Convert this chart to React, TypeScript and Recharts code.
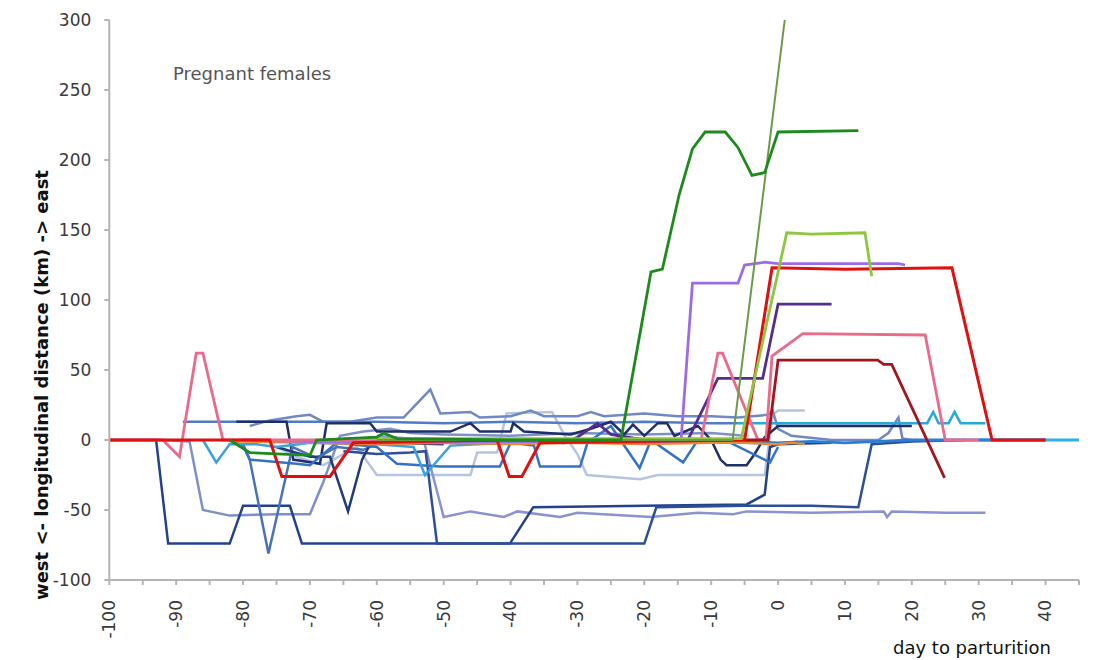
import React from "react"
import { LineChart, Line, XAxis, YAxis } from "recharts"

type Pt = [number, number]

const xTicks = [-100, -95, -90, -85, -80, -75, -70, -65, -60, -55, -50, -45, -40, -35, -30, -25, -20, -15, -10, -5, 0, 5, 10, 15, 20, 25, 30, 35, 40, 45]
const yTicks = [-100, -50, 0, 50, 100, 150, 200, 250, 300]

// day to parturition, longitudinal distance (km)
const lightGray: Pt[] = [[-75, -5], [-72, -12], [-68, -18], [-63, -5], [-60, -25], [-53.5, -25], [-46, -25], [-45, -9], [-42, -9], [-40.6, 19], [-33.8, 20], [-32, 4], [-30, -10], [-28.6, -25], [-20.6, -28], [-18, -25], [-10, -25], [-2, -25], [-0.8, 18], [0, 21], [4, 21]]
const lavender: Pt[] = [[-60, 3], [-53, 0], [-50, -55], [-46, -51], [-41, -55], [-39, -51], [-32.6, -55], [-30, -52], [-19, -55], [-12, -52], [-6.7, -53], [-4.7, -51], [5, -52], [15.8, -51], [16.3, -55], [17, -51], [25, -52], [31, -52]]
const slate: Pt[] = [[-92, 0], [-88, -1], [-86, -50], [-82, -54], [-75, -53], [-70, -53], [-68, -30], [-65.5, 3], [-62, 6], [-58, 8], [-55, 5], [-50, 4], [-40, 3], [-30, 5], [-20, 4], [-10, 5], [-5, 3]]
const spikeLine: Pt[] = [[-79, 10], [-76, 14], [-72, 17], [-70, 18], [-68, 13], [-64, 13], [-60, 16], [-56, 16], [-52, 36], [-50.5, 19], [-46, 20], [-44.6, 16], [-40, 17], [-37, 21], [-35, 17], [-30, 17], [-28, 20], [-26, 17], [-20, 19], [-15, 17], [-10, 17], [-6, 16], [-1.5, 18], [-0.8, 21], [0, 8], [2, 3], [8, 0], [15, 0], [16.5, 5], [18, 16], [18.6, 1], [20, 0]]
const blue12: Pt[] = [[-89, 13], [-80, 13], [-70, 13], [-60, 13], [-50, 12], [-40, 13], [-30, 12], [-20, 13], [-10, 12], [-6, 12]]
const cyan12: Pt[] = [[-6, 12], [0, 12], [10, 12], [20, 12], [22.3, 12], [23.2, 20], [24, 12], [25.5, 12], [26.4, 20], [27.3, 12], [31, 12]]
const darkNavy: Pt[] = [[-81, 13], [-73.5, 13], [-72.5, -14], [-68.5, -17], [-67.5, 12], [-61, 12], [-60, 6], [-49, 6], [-46, 12], [-44.6, 6], [-40, 6], [-39.6, 12], [-38, 6], [-31, 4], [-28, 8], [-25, 13], [-23, 4], [-21.7, 11], [-20, 3], [-18, 12], [-16.6, 12], [-15.5, 3], [-12, 10], [-10, 0], [-8.6, -14], [-7.7, -18], [-4.7, -18], [-3.5, -10], [-2, 2], [0, 10], [5, 10], [20, 10]]
const navyA: Pt[] = [[-100, 0], [-93, 0], [-91.2, -74], [-82, -74], [-80, -47], [-73, -47], [-71.2, -74], [-55, -74], [-40.1, -74], [-36.6, -48], [-20, -47], [-4.7, -46], [-2, -39], [-1.2, -5], [0, -3], [8, -2]]
const navyB: Pt[] = [[-65, -8], [-60, -10], [-55, -9], [-52.7, -8], [-51, -74], [-40, -74], [-30, -74], [-20, -74], [-18.2, -48], [-5, -47], [5, -47], [12, -48], [14, -3], [20, -1], [28, 0]]
const steelV: Pt[] = [[-82, 0], [-80, -4], [-79, -14], [-76.2, -81], [-72.6, -5], [-69, -13], [-66, -5], [-62, -7], [-60, -3]]
const darkV: Pt[] = [[-75, -5], [-70, -12], [-67, -12], [-64.3, -51], [-62.2, -14], [-61, -3], [-58, -2], [-50, -3]]
const midBlue: Pt[] = [[-80, -3], [-79, -14], [-72, -17], [-70, -18], [-66, -2], [-60, -5], [-57, -17], [-50.5, -19], [-41.6, -19], [-40, -2], [-36.5, -4], [-35.6, -19], [-29.6, -19], [-28.5, -2], [-25, 10], [-20.7, -20], [-19, 0], [-14.2, -16], [-12, 0], [-8, 0], [-1.2, -16], [0, -5]]
const azure: Pt[] = [[-86, 0], [-84, -16], [-82, -3], [-78, -3], [-75, -5], [-70, -2], [-60, -3], [-54.5, -5], [-52.8, -25], [-49, -4], [-40, -2], [-30, -1], [-20, -1], [-5, -2], [0, -3], [3, -1]]
const blueZero: Pt[] = [[-5, -1], [0, -2], [5, -1], [10, -2], [15, -1], [20, 0], [30, 0], [40, 0]]
const cyanZero: Pt[] = [[30, 0], [45, 0]]
const orange: Pt[] = [[-82, -1], [-70, -2], [-60, -3], [-50, -2], [-40, -3], [-30, -2], [-20, -3], [-10, -2], [-5, -2], [0, -3], [2, -2], [4, -3]]
const darkPurple: Pt[] = [[-60, 0], [-40, 0], [-32, -2], [-30, 2], [-27, 12], [-25, 4], [-20, 0], [-13.5, 0], [-9, 44], [-2.3, 44], [0, 97], [8, 97]]
const purple: Pt[] = [[-80, 0], [-60, -2], [-40, -1], [-20, -2], [-14.5, 0], [-12.8, 112], [-6, 112], [-5, 125], [-2, 127], [0, 126], [10, 126], [18, 126], [19, 125]]
const pink: Pt[] = [[-100, 0], [-92, 0], [-89.5, -12], [-87, 62], [-86, 62], [-83, 0], [-60, 0], [-40, 0], [-20, 0], [-11.5, 0], [-9, 62], [-8.3, 62], [-3, 0], [-1.8, 0], [-0.9, 60], [3.7, 76], [22, 75], [25, 0], [30, 0]]
const darkRed: Pt[] = [[-50, 0], [-20, 0], [-1.5, 0], [0, 57], [14.9, 57], [15.8, 54], [17, 54], [24.9, -27]]
const red: Pt[] = [[-100, 0], [-76, 0], [-74.2, -26], [-67, -26], [-63.5, -2], [-42, 0], [-40.2, -26], [-38.3, -26], [-35.6, -2], [-5, 0], [-0.9, 123], [10, 122], [26, 123], [32, 0], [40, 0]]
const lightGreen: Pt[] = [[-65, 1], [-40, 1], [-20, 1], [-5.5, 1], [1.3, 148], [5, 147], [13, 148], [14, 117]]
const olive: Pt[] = [[-60, 0], [-6.8, 0], [1, 300]]
const darkGreen: Pt[] = [[-82, 0], [-79, -9], [-70, -11], [-69, 0], [-60, 2], [-59, 5], [-57, 1], [-40, 0], [-23.5, 0], [-19, 120], [-17.3, 122], [-14.8, 175], [-12.8, 208], [-10.9, 220], [-7.9, 220], [-6, 209], [-3.9, 189], [-2, 191], [0, 220], [12, 221]]

const series = [
  { name: "lightGray", pts: lightGray, color: "#b6c5df", w: 2.5 },
  { name: "lavender", pts: lavender, color: "#8a92cf", w: 2.5 },
  { name: "slate", pts: slate, color: "#7e90c6", w: 2.5 },
  { name: "spikeLine", pts: spikeLine, color: "#7189c2", w: 2.5 },
  { name: "blue12", pts: blue12, color: "#4f7cc2", w: 2.5 },
  { name: "cyan12", pts: cyan12, color: "#28a9dc", w: 2.6 },
  { name: "darkNavy", pts: darkNavy, color: "#1e2f6a", w: 2.5 },
  { name: "navyA", pts: navyA, color: "#24428c", w: 2.5 },
  { name: "navyB", pts: navyB, color: "#2d4e98", w: 2.5 },
  { name: "steelV", pts: steelV, color: "#4a72b8", w: 2.5 },
  { name: "darkV", pts: darkV, color: "#233a7a", w: 2.5 },
  { name: "midBlue", pts: midBlue, color: "#3672c4", w: 2.5 },
  { name: "azure", pts: azure, color: "#3aa0e0", w: 2.5 },
  { name: "cyanZero", pts: cyanZero, color: "#2ab4e6", w: 2.8 },
  { name: "blueZero", pts: blueZero, color: "#2a7fd4", w: 2.8 },
  { name: "orange", pts: orange, color: "#f08a2e", w: 2.2 },
  { name: "darkPurple", pts: darkPurple, color: "#552d8e", w: 2.8 },
  { name: "purple", pts: purple, color: "#9c6be8", w: 2.8 },
  { name: "pink", pts: pink, color: "#ea6a8c", w: 2.8 },
  { name: "darkRed", pts: darkRed, color: "#a3151c", w: 2.8 },
  { name: "red", pts: red, color: "#e01010", w: 3 },
  { name: "lightGreen", pts: lightGreen, color: "#8ec641", w: 2.8 },
  { name: "olive", pts: olive, color: "#6c9a4a", w: 2 },
  { name: "darkGreen", pts: darkGreen, color: "#1e8a1e", w: 2.8 },
]

const font = "'DejaVu Sans', sans-serif"

function XTick(props: any) {
  const { x, y, payload } = props
  const v = payload.value
  if (v % 10 !== 0 || v > 40) return null
  const ty = y + 13
  return (
    <text
      x={x}
      y={ty}
      dy="0.35em"
      textAnchor="end"
      transform={`rotate(-90, ${x}, ${ty})`}
      fill="#3a3a3a"
      fontSize={17}
      fontFamily={font}
    >
      {v}
    </text>
  )
}

export default function App() {
  return (
    <div style={{ position: "relative", width: 1080, height: 650, fontFamily: font }}>
      <LineChart width={1080} height={650} margin={{ top: 12, right: 9, left: 0, bottom: 0 }}>
        <XAxis
          type="number"
          dataKey="d"
          domain={[-100, 45]}
          ticks={xTicks}
          interval={0}
          allowDataOverflow
          height={78}
          tickSize={5}
          stroke="#b4b4b4"
          strokeWidth={2}
          tick={<XTick />}
        />
        <YAxis
          type="number"
          domain={[-100, 300]}
          ticks={yTicks}
          interval={0}
          allowDataOverflow
          width={101.3}
          tickSize={5}
          tickMargin={13}
          stroke="#b4b4b4"
          strokeWidth={2}
          tick={{ fill: "#3a3a3a", fontSize: 17, fontFamily: font }}
        />
        {series.map((s) => (
          <Line
            key={s.name}
            name={s.name}
            data={s.pts.map(([d, v]) => ({ d, v }))}
            dataKey="v"
            type="linear"
            stroke={s.color}
            strokeWidth={s.w}
            dot={false}
            activeDot={false}
            isAnimationActive={false}
          />
        ))}
      </LineChart>
      <div style={{ position: "absolute", left: 165, top: 55, fontSize: 18, color: "#555", whiteSpace: "nowrap" }}>
        Pregnant females
      </div>
      <div style={{ position: "absolute", left: 885, top: 629, fontSize: 18, color: "#111", whiteSpace: "nowrap" }}>
        day to parturition
      </div>
      <div
        style={{
          position: "absolute",
          left: 34 - 260,
          top: 377 - 11,
          width: 520,
          textAlign: "center",
          fontSize: 18,
          fontWeight: "bold",
          color: "#111",
          whiteSpace: "nowrap",
          transform: "rotate(-90deg)",
          transformOrigin: "center",
          lineHeight: "22px",
        }}
      >
        west &lt;- longitudinal distance (km) -&gt; east
      </div>
    </div>
  )
}
